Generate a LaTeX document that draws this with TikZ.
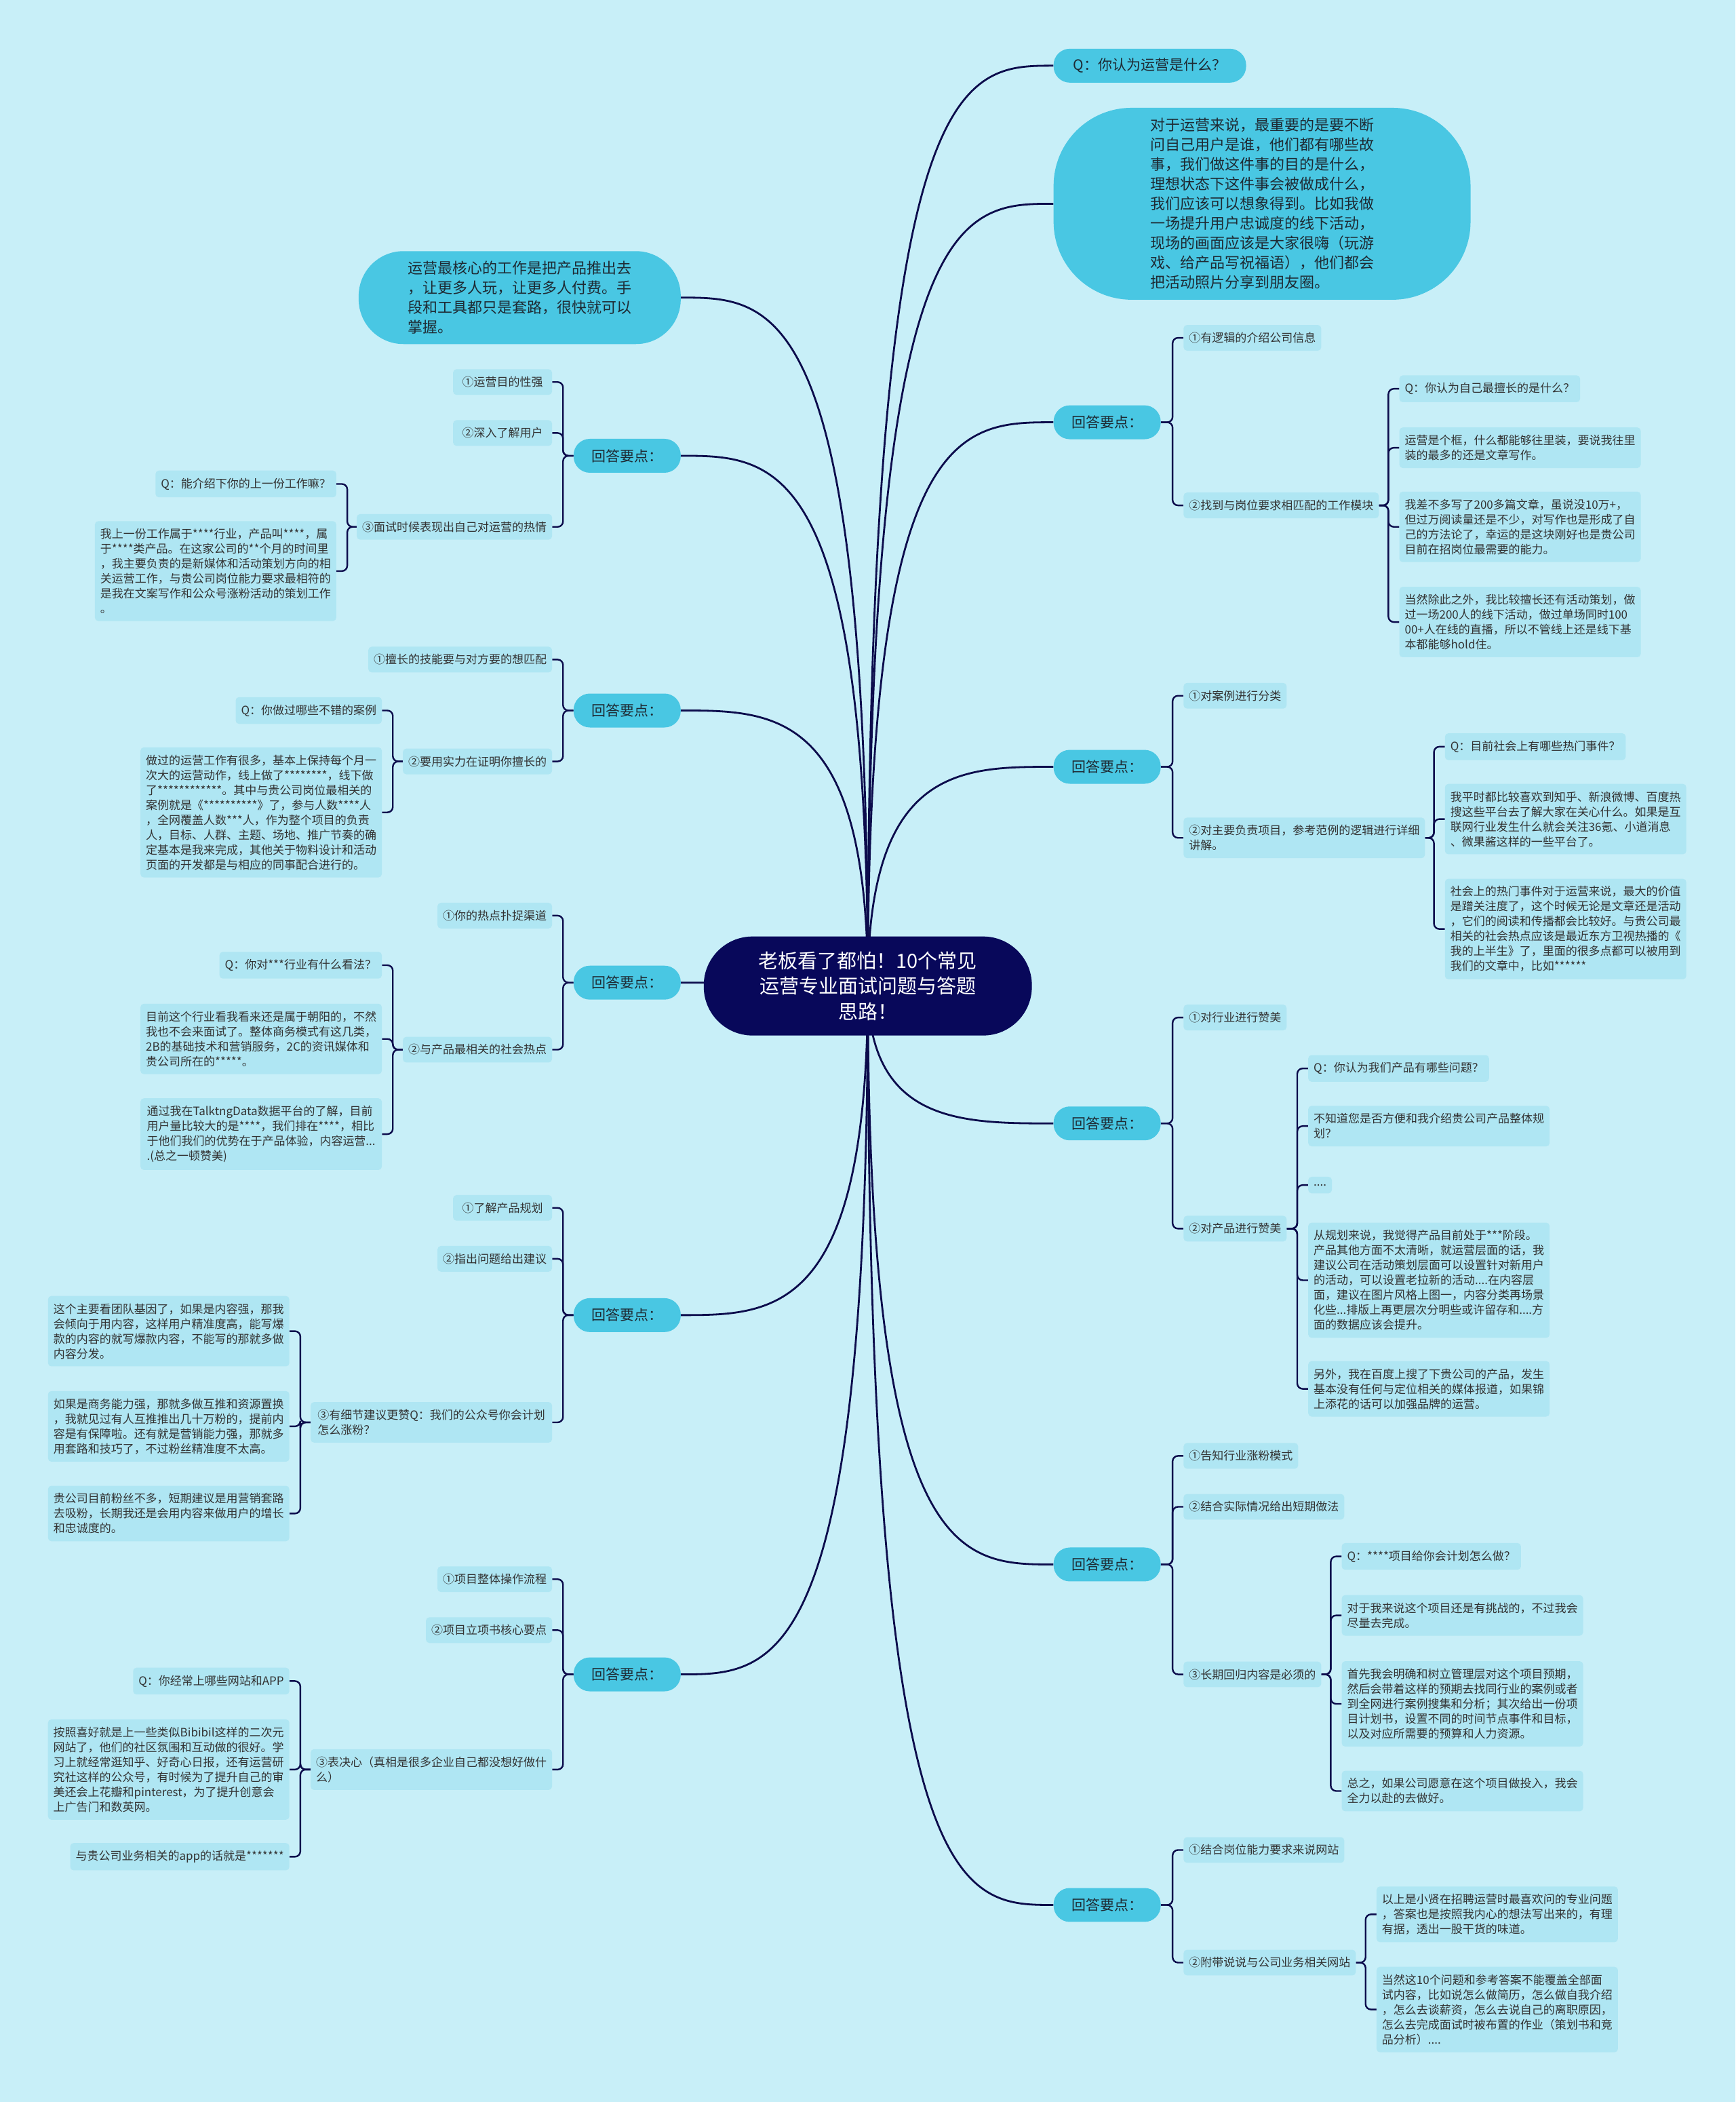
\documentclass[tikz,border=0pt]{standalone}
\usepackage{fontspec}
\setmainfont{Noto Sans CJK SC}
\usetikzlibrary{calc}
\definecolor{bgC}{HTML}{C8EFF8}
\definecolor{leafC}{HTML}{AFE6F3}
\definecolor{brC}{HTML}{49C7E3}
\definecolor{ctrC}{HTML}{08085A}
\definecolor{lineC}{HTML}{0C0C4C}
\definecolor{txtC}{HTML}{333333}
\definecolor{txtD}{HTML}{1E2A33}
\pgfdeclarelayer{bgl}
\pgfdeclarelayer{edges}
\pgfsetlayers{bgl,edges,main}
\begin{document}
\begin{tikzpicture}[x=1.9768pt,y=-1.9768pt,
  leaf/.style={fill=leafC, rounded corners=5pt, inner xsep=8pt, inner ysep=11pt, align=left, text=txtC, font=\fontsize{17}{22}\selectfont},
  wide/.style={minimum width=356pt},
  lvtwo/.style={leaf, minimum width=146pt},
  pill/.style={fill=brC, rounded corners=24pt, minimum height=50pt, minimum width=158pt, inner xsep=12pt, inner ysep=0pt, text=txtD, font=\fontsize{21}{26}\selectfont},
  bubble/.style={fill=brC, align=left, text=txtD, font=\fontsize{22}{29}\selectfont, inner sep=0pt},
  ctr/.style={fill=ctrC, text=white, align=center, rounded corners=72pt, minimum width=484pt, minimum height=146pt, font=\fontsize{29}{37.5}\selectfont, inner sep=0pt},
  mconn/.style={draw=lineC, line width=2.8pt},
  sconn/.style={draw=lineC, line width=2.4pt, rounded corners=8pt},
]
\begin{pgfonlayer}{bgl}
\fill[bgC] (0,0) rectangle (1295,1568);
\end{pgfonlayer}
\useasboundingbox (0,0) rectangle (1295,1568);
% center
\node[ctr] (c) at (647.5,735.5) {老板看了都怕！10个常见\\运营专业面试问题与答题\\思路！};
% ===== right side =====
\node[pill, anchor=west, minimum width=284pt] (r0) at (786,49) {Q：你认为运营是什么？};
\node[bubble, anchor=west, minimum width=615pt, minimum height=283pt, rounded corners=115pt] (r1) at (786,152) {对于运营来说，最重要的是要不断\\问自己用户是谁，他们都有哪些故\\事，我们做这件事的目的是什么，\\理想状态下这件事会被做成什么，\\我们应该可以想象得到。比如我做\\一场提升用户忠诚度的线下活动，\\现场的画面应该是大家很嗨（玩游\\戏、给产品写祝福语），他们都会\\把活动照片分享到朋友圈。};
% r2
\node[pill, anchor=west] (r2) at (786,315) {回答要点：};
\node[lvtwo, anchor=west] (r2a) at (883,252) {①有逻辑的介绍公司信息};
\node[lvtwo, anchor=west] (r2b) at (883,377) {②找到与岗位要求相匹配的工作模块};
\node[leaf, anchor=west] (r2b1) at (1044,290) {Q：你认为自己最擅长的是什么？};
\node[leaf, wide, anchor=west] (r2b2) at (1044,334) {运营是个框，什么都能够往里装，要说我往里\\装的最多的还是文章写作。};
\node[leaf, wide, anchor=west] (r2b3) at (1044,393) {我差不多写了200多篇文章，虽说没10万+，\\但过万阅读量还是不少，对写作也是形成了自\\己的方法论了，幸运的是这块刚好也是贵公司\\目前在招岗位最需要的能力。};
\node[leaf, wide, anchor=west] (r2b4) at (1044,464) {当然除此之外，我比较擅长还有活动策划，做\\过一场200人的线下活动，做过单场同时100\\00+人在线的直播，所以不管线上还是线下基\\本都能够hold住。};
% r3
\node[pill, anchor=west] (r3) at (786,572) {回答要点：};
\node[lvtwo, anchor=west] (r3a) at (883,519) {①对案例进行分类};
\node[leaf, wide, anchor=west] (r3b) at (883,625) {②对主要负责项目，参考范例的逻辑进行详细\\讲解。};
\node[leaf, anchor=west] (r3b1) at (1078,557) {Q：目前社会上有哪些热门事件？};
\node[leaf, wide, anchor=west] (r3b2) at (1078,611) {我平时都比较喜欢到知乎、新浪微博、百度热\\搜这些平台去了解大家在关心什么。如果是互\\联网行业发生什么就会关注36氪、小道消息\\、微果酱这样的一些平台了。};
\node[leaf, wide, anchor=west] (r3b3) at (1078,693) {社会上的热门事件对于运营来说，最大的价值\\是蹭关注度了，这个时候无论是文章还是活动\\，它们的阅读和传播都会比较好。与贵公司最\\相关的社会热点应该是最近东方卫视热播的《\\我的上半生》了，里面的很多点都可以被用到\\我们的文章中，比如******};
% r4
\node[pill, anchor=west] (r4) at (786,838) {回答要点：};
\node[lvtwo, anchor=west] (r4a) at (883,759) {①对行业进行赞美};
\node[lvtwo, anchor=west] (r4b) at (883,916.5) {②对产品进行赞美};
\node[leaf, anchor=west] (r4b1) at (976,797) {Q：你认为我们产品有哪些问题？};
\node[leaf, wide, anchor=west] (r4b2) at (976,840) {不知道您是否方便和我介绍贵公司产品整体规\\划？};
\node[leaf, anchor=west] (r4b3) at (976,884) {....};
\node[leaf, wide, anchor=west] (r4b4) at (976,955) {从规划来说，我觉得产品目前处于***阶段。\\产品其他方面不太清晰，就运营层面的话，我\\建议公司在活动策划层面可以设置针对新用户\\的活动，可以设置老拉新的活动....在内容层\\面，建议在图片风格上图一，内容分类再场景\\化些...排版上再更层次分明些或许留存和....方\\面的数据应该会提升。};
\node[leaf, wide, anchor=west] (r4b5) at (976,1036) {另外，我在百度上搜了下贵公司的产品，发生\\基本没有任何与定位相关的媒体报道，如果锦\\上添花的话可以加强品牌的运营。};
% r5
\node[pill, anchor=west] (r5) at (786,1167) {回答要点：};
\node[lvtwo, anchor=west] (r5a) at (883,1086) {①告知行业涨粉模式};
\node[lvtwo, anchor=west] (r5b) at (883,1124) {②结合实际情况给出短期做法};
\node[lvtwo, anchor=west] (r5c) at (883,1249) {③长期回归内容是必须的};
\node[leaf, anchor=west] (r5c1) at (1001,1161) {Q：****项目给你会计划怎么做？};
\node[leaf, wide, anchor=west] (r5c2) at (1001,1205) {对于我来说这个项目还是有挑战的，不过我会\\尽量去完成。};
\node[leaf, wide, anchor=west] (r5c3) at (1001,1271) {首先我会明确和树立管理层对这个项目预期，\\然后会带着这样的预期去找同行业的案例或者\\到全网进行案例搜集和分析；其次给出一份项\\目计划书，设置不同的时间节点事件和目标，\\以及对应所需要的预算和人力资源。};
\node[leaf, wide, anchor=west] (r5c4) at (1001,1336) {总之，如果公司愿意在这个项目做投入，我会\\全力以赴的去做好。};
% r6
\node[pill, anchor=west] (r6) at (786,1421) {回答要点：};
\node[lvtwo, anchor=west] (r6a) at (883,1380) {①结合岗位能力要求来说网站};
\node[lvtwo, anchor=west] (r6b) at (883,1464) {②附带说说与公司业务相关网站};
\node[leaf, wide, anchor=west] (r6b1) at (1027,1428) {以上是小贤在招聘运营时最喜欢问的专业问题\\，答案也是按照我内心的想法写出来的，有理\\有据，透出一股干货的味道。};
\node[leaf, wide, anchor=west] (r6b2) at (1027,1499) {当然这10个问题和参考答案不能覆盖全部面\\试内容，比如说怎么做简历，怎么做自我介绍\\，怎么去谈薪资，怎么去说自己的离职原因，\\怎么去完成面试时被布置的作业（策划书和竞\\品分析）....};
% ===== left side =====
\node[bubble, anchor=east, minimum width=475pt, minimum height=137pt, rounded corners=66pt] (l1) at (508,222) {运营最核心的工作是把产品推出去\\，让更多人玩，让更多人付费。手\\段和工具都只是套路，很快就可以\\掌握。};
% l2
\node[pill, anchor=east] (l2) at (508,340) {回答要点：};
\node[lvtwo, anchor=east] (l2a) at (412,285) {①运营目的性强};
\node[lvtwo, anchor=east] (l2b) at (412,323) {②深入了解用户};
\node[lvtwo, anchor=east] (l2c) at (412,393) {③面试时候表现出自己对运营的热情};
\node[leaf, anchor=east] (l2c1) at (251,361) {Q：能介绍下你的上一份工作嘛？};
\node[leaf, wide, anchor=east] (l2c2) at (251,426) {我上一份工作属于****行业，产品叫****，属\\于****类产品。在这家公司的**个月的时间里\\，我主要负责的是新媒体和活动策划方向的相\\关运营工作，与贵公司岗位能力要求最相符的\\是我在文案写作和公众号涨粉活动的策划工作\\。};
% l3
\node[pill, anchor=east] (l3) at (508,530) {回答要点：};
\node[lvtwo, anchor=east] (l3a) at (412,492) {①擅长的技能要与对方要的想匹配};
\node[lvtwo, anchor=east] (l3b) at (412,568) {②要用实力在证明你擅长的};
\node[leaf, anchor=east] (l3b1) at (285,530) {Q：你做过哪些不错的案例};
\node[leaf, wide, anchor=east] (l3b2) at (285,606) {做过的运营工作有很多，基本上保持每个月一\\次大的运营动作，线上做了********，线下做\\了************。其中与贵公司岗位最相关的\\案例就是《**********》了，参与人数****人\\，全网覆盖人数***人，作为整个项目的负责\\人，目标、人群、主题、场地、推广节奏的确\\定基本是我来完成，其他关于物料设计和活动\\页面的开发都是与相应的同事配合进行的。};
% l4
\node[pill, anchor=east] (l4) at (508,733) {回答要点：};
\node[lvtwo, anchor=east] (l4a) at (412,683) {①你的热点扑捉渠道};
\node[lvtwo, anchor=east] (l4b) at (412,783) {②与产品最相关的社会热点};
\node[leaf, anchor=east] (l4b1) at (285,720) {Q：你对***行业有什么看法？};
\node[leaf, wide, anchor=east] (l4b2) at (285,775) {目前这个行业看我看来还是属于朝阳的，不然\\我也不会来面试了。整体商务模式有这几类，\\2B的基础技术和营销服务，2C的资讯媒体和\\贵公司所在的*****。};
\node[leaf, wide, anchor=east] (l4b3) at (285,846) {通过我在TalktngData数据平台的了解，目前\\用户量比较大的是****，我们排在****，相比\\于他们我们的优势在于产品体验，内容运营...\\.(总之一顿赞美)};
% l5
\node[pill, anchor=east] (l5) at (508,981) {回答要点：};
\node[lvtwo, anchor=east] (l5a) at (412,901) {①了解产品规划};
\node[lvtwo, anchor=east] (l5b) at (412,939) {②指出问题给出建议};
\node[leaf, wide, anchor=east] (l5c) at (412,1061) {③有细节建议更赞Q：我们的公众号你会计划\\怎么涨粉？};
\node[leaf, wide, anchor=east] (l5c1) at (216,993) {这个主要看团队基因了，如果是内容强，那我\\会倾向于用内容，这样用户精准度高，能写爆\\款的内容的就写爆款内容，不能写的那就多做\\内容分发。};
\node[leaf, wide, anchor=east] (l5c2) at (216,1064) {如果是商务能力强，那就多做互推和资源置换\\，我就见过有人互推推出几十万粉的，提前内\\容是有保障啦。还有就是营销能力强，那就多\\用套路和技巧了，不过粉丝精准度不太高。};
\node[leaf, wide, anchor=east] (l5c3) at (216,1129) {贵公司目前粉丝不多，短期建议是用营销套路\\去吸粉，长期我还是会用内容来做用户的增长\\和忠诚度的。};
% l6
\node[pill, anchor=east] (l6) at (508,1249) {回答要点：};
\node[lvtwo, anchor=east] (l6a) at (412,1178) {①项目整体操作流程};
\node[lvtwo, anchor=east] (l6b) at (412,1216) {②项目立项书核心要点};
\node[leaf, wide, anchor=east] (l6c) at (412,1320) {③表决心（真相是很多企业自己都没想好做什\\么）};
\node[leaf, anchor=east] (l6c1) at (216,1254) {Q：你经常上哪些网站和APP};
\node[leaf, wide, anchor=east] (l6c2) at (216,1320) {按照喜好就是上一些类似Bibibil这样的二次元\\网站了，他们的社区氛围和互动做的很好。学\\习上就经常逛知乎、好奇心日报，还有运营研\\究社这样的公众号，有时候为了提升自己的审\\美还会上花瓣和pinterest，为了提升创意会\\上广告门和数英网。};
\node[leaf, anchor=east] (l6c3) at (216,1385) {与贵公司业务相关的app的话就是*******};
% ===== connectors =====
\begin{pgfonlayer}{edges}
\foreach \t in {r0,r1,r2,r3,r4,r5,r6}
  \draw[mconn] (c.center) .. controls (c.center |- \t.west) and ($(c.center |- \t.west)!0.5!(\t.west)$) .. (\t.west);
\foreach \t in {l1,l2,l3,l4,l5,l6}
  \draw[mconn] (c.center) .. controls (c.center |- \t.east) and ($(c.center |- \t.east)!0.5!(\t.east)$) .. (\t.east);
\foreach \p/\ch in {r2/r2a,r2/r2b,r2b/r2b1,r2b/r2b2,r2b/r2b3,r2b/r2b4,
  r3/r3a,r3/r3b,r3b/r3b1,r3b/r3b2,r3b/r3b3,
  r4/r4a,r4/r4b,r4b/r4b1,r4b/r4b2,r4b/r4b3,r4b/r4b4,r4b/r4b5,
  r5/r5a,r5/r5b,r5/r5c,r5c/r5c1,r5c/r5c2,r5c/r5c3,r5c/r5c4,
  r6/r6a,r6/r6b,r6b/r6b1,r6b/r6b2}
  \draw[sconn] (\p.east) -| ([xshift=-16pt]\ch.west) -- (\ch.west);
\foreach \p/\ch in {l2/l2a,l2/l2b,l2/l2c,l2c/l2c1,l2c/l2c2,
  l3/l3a,l3/l3b,l3b/l3b1,l3b/l3b2,
  l4/l4a,l4/l4b,l4b/l4b1,l4b/l4b2,l4b/l4b3,
  l5/l5a,l5/l5b,l5/l5c,l5c/l5c1,l5c/l5c2,l5c/l5c3,
  l6/l6a,l6/l6b,l6/l6c,l6c/l6c1,l6c/l6c2,l6c/l6c3}
  \draw[sconn] (\p.west) -| ([xshift=16pt]\ch.east) -- (\ch.east);
\end{pgfonlayer}
\end{tikzpicture}
\end{document}
